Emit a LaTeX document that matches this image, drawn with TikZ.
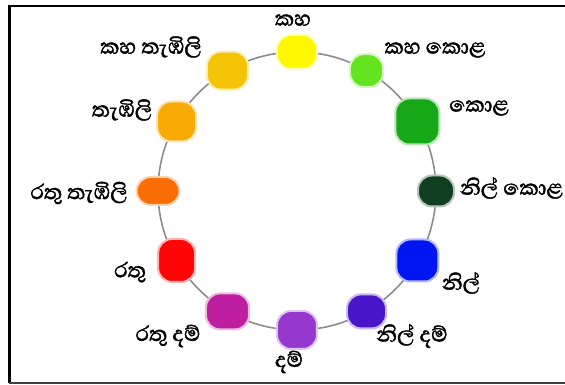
\documentclass[tikz,border=0pt]{standalone}
\usepackage{fontspec}
\newfontfamily\sinhala[Script=Sinhala, FakeBold=1.6]{Abhaya Libre}
\definecolor{kaha}{RGB}{255,248,0}
\definecolor{kahakola}{RGB}{100,228,30}
\definecolor{kola}{RGB}{22,168,22}
\definecolor{nilkola}{RGB}{16,62,32}
\definecolor{nil}{RGB}{0,22,240}
\definecolor{nildam}{RGB}{72,22,200}
\definecolor{dam}{RGB}{150,55,205}
\definecolor{ratudam}{RGB}{190,30,160}
\definecolor{ratu}{RGB}{255,5,5}
\definecolor{ratutambili}{RGB}{250,110,5}
\definecolor{tambili}{RGB}{250,170,5}
\definecolor{kahatambili}{RGB}{245,195,5}
\definecolor{ringgray}{RGB}{140,140,140}
\tikzset{
    blob/.style={rectangle, rounded corners=14pt, inner sep=0pt, fill=#1, draw=#1!30, line width=2pt},
    lbl/.style={font=\sinhala\fontsize{27}{27}\selectfont, text=black, inner sep=0pt}
}
\begin{document}
\begin{tikzpicture}[x=1pt, y=1pt]
                \useasboundingbox (-297,-194) rectangle (268,191);
                % Frame
                \draw[line width=2.5pt] (268,185) -- (-287.5,185) -- (-287.5,-192);
                \draw[line width=1.5pt, black!75] (-287.5,-192) -- (268,-192);
                % Ring
                \draw[ringgray, line width=1.6pt] (0,0) circle (139);
                % Blobs
                \node[blob=kaha, minimum width=40, minimum height=34] (b-kaha) at (90:139) {};
                \node[blob=kahakola, minimum width=33, minimum height=33] (b-kahakola) at (60:139) {};
                \node[blob=kola, minimum width=44, minimum height=46] (b-kola) at (30:139) {};
                \node[blob=nilkola, minimum width=36, minimum height=31] (b-nilkola) at (0:139) {};
                \node[blob=nil, minimum width=42, minimum height=42] (b-nil) at (-30:139) {};
                \node[blob=nildam, minimum width=39, minimum height=34] (b-nildam) at (-60:139) {};
                \node[blob=dam, minimum width=40, minimum height=38] (b-dam) at (-90:139) {};
                \node[blob=ratudam, minimum width=43, minimum height=36] (b-ratudam) at (-120:139) {};
                \node[blob=ratu, minimum width=37, minimum height=43] (b-ratu) at (-150:139) {};
                \node[blob=ratutambili, minimum width=43, minimum height=28] (b-ratutambili) at (180:139) {};
                \node[blob=tambili, minimum width=39, minimum height=40] (b-tambili) at (150:139) {};
                \node[blob=kahatambili, minimum width=41, minimum height=38] (b-kahatambili) at (120:139) {};
                % Labels
                \node[lbl] (l-kaha) at (-4,171) {කහ};
                \node[lbl] (l-kahakola) at (138,141) {කහ කොළ};
                \node[lbl] (l-kola) at (182,83) {කොළ};
                \node[lbl, anchor=east] (l-nilkola) at (266,3) {නිල් කොළ};
                \node[lbl] (l-nil) at (164,-92) {නිල්};
                \node[lbl] (l-nildam) at (115,-145) {නිල් දම්};
                \node[lbl] (l-dam) at (-8,-171) {දම්};
                \node[lbl] (l-ratudam) at (-129,-145) {රතු දම්};
                \node[lbl] (l-ratu) at (-167,-81) {රතු};
                \node[lbl] (l-ratutambili) at (-218,-2) {රතු තැඹිලි};
                \node[lbl] (l-tambili) at (-175,81) {තැඹිලි};
                \node[lbl] (l-kahatambili) at (-146,144) {කහ තැඹිලි};
\end{tikzpicture}
\end{document}
